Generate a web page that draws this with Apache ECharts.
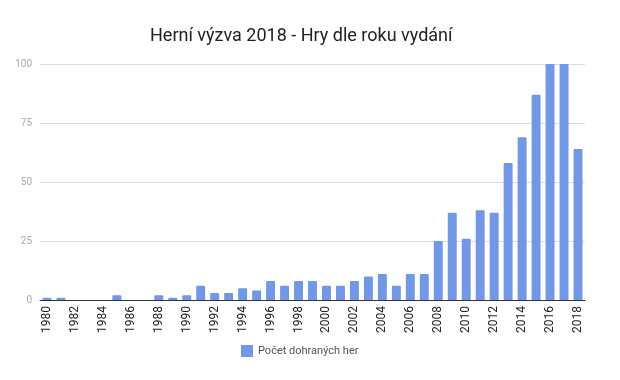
<!DOCTYPE html>
<html><head><meta charset="utf-8">
<script src="https://cdn.jsdelivr.net/npm/echarts@6/dist/echarts.min.js"></script>
<style>html,body{margin:0;padding:0;background:#fff}#c{width:620px;height:380px}</style>
</head><body><div id="c"></div>
<script>
const years = [];
for (let y = 1980; y <= 2018; y++) years.push(String(y));
const counts = [1,1,0,0,0,2,0,0,2,1,2,6,3,3,5,4,8,6,8,8,6,6,8,10,11,6,11,11,25,37,26,38,37,58,69,87,100,100,64];
const yTicks = [0,25,50,75,100];
const seriesName = 'Počet dohraných her';
const chart = echarts.init(document.getElementById('c'), null, {renderer:'canvas'});
chart.setOption({
  animation:false,
  textStyle:{fontFamily:'Roboto'},
  title:{text:'Herní výzva 2018 - Hry dle roku vydání', left:145, top:22,
    textStyle:{fontFamily:'Roboto', fontSize:18, fontWeight:'normal', color:'#222'}},
  legend:{data:[seriesName], bottom:18, left:236, itemWidth:12, itemHeight:12, itemGap:8,
    icon:'rect', textStyle:{fontFamily:'Roboto', fontSize:11, color:'#555'}},
  grid:{left:40, right:35, top:64, bottom:80, containLabel:false},
  xAxis:{type:'category', data:years,
    axisLine:{lineStyle:{color:'#333', width:1}}, axisTick:{show:false},
    axisLabel:{rotate:90, interval:1, fontSize:12, color:'#222', margin:6}},
  yAxis:{type:'value', min:yTicks[0], max:yTicks[yTicks.length-1], interval:25,
    axisLine:{show:false}, axisTick:{show:false},
    splitLine:{lineStyle:{color:'#ddd'}},
    axisLabel:{fontSize:10, color:'#aaa', margin:8}},
  series:[{name:seriesName, type:'bar', data:counts, barWidth:'64%',
    itemStyle:{color:'#7097e8', borderRadius:[1,1,0,0]}}]
});
</script></body></html>
